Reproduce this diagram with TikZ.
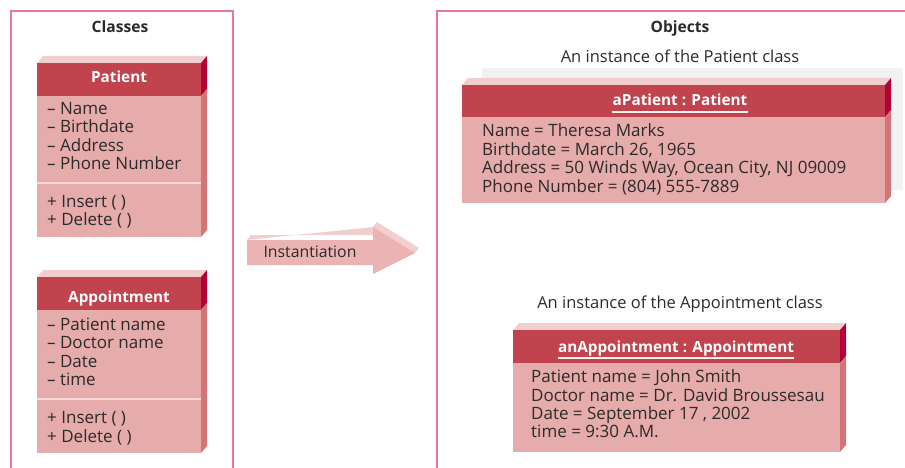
\documentclass[tikz,border=0pt]{standalone}
\usepackage{fontspec}
\setmainfont{Open Sans}
\usetikzlibrary{calc}
\definecolor{hdrc}{HTML}{C0434D}
\definecolor{hdrside}{HTML}{B5003A}
\definecolor{bodyc}{HTML}{E6ABAB}
\definecolor{bodyside}{HTML}{D27478}
\definecolor{bevelc}{HTML}{F2CFCF}
\definecolor{framec}{HTML}{E27A9C}
\definecolor{txtc}{HTML}{2E2A2A}
\definecolor{shadowc}{HTML}{F2F2F2}
\definecolor{arrowc}{HTML}{EBB3B3}
\definecolor{sepc}{HTML}{F6DADA}
\newcommand{\tdbox}[5]{%
  \fill[bevelc] (#1,#2) -- (#1+6,#2-7) -- (#3+6,#2-7) -- (#3,#2) -- cycle;
  \fill[hdrc] (#1,#2) rectangle (#3,#4);
  \fill[hdrside] (#3,#2) -- (#3+6,#2-7) -- (#3+6,#4-7) -- (#3,#4) -- cycle;
  \fill[bodyc] (#1,#4) rectangle (#3,#5);
  \fill[bodyside] (#3,#4) -- (#3+6,#4-7) -- (#3+6,#5-7) -- (#3,#5) -- cycle;
}
\begin{document}
\begin{tikzpicture}[x=1pt,y=-1pt,
  frame/.style={draw=framec,line width=1.8pt},
  title/.style={font=\fontsize{15.6}{18}\selectfont\bfseries,text=txtc,anchor=base,inner sep=0pt},
  caption/.style={font=\fontsize{16.5}{18}\selectfont,text=txtc,anchor=base,inner sep=0pt},
  insttext/.style={font=\fontsize{15.8}{18}\selectfont,text=txtc,anchor=base,inner sep=0pt},
  hdrtext/.style={font=\fontsize{15.3}{18}\selectfont\bfseries,text=white,anchor=base,inner sep=0pt},
  attr/.style={font=\fontsize{17}{18}\selectfont,text=txtc,anchor=base west,inner sep=0pt},
  sepline/.style={draw=sepc,line width=2pt},
  uline/.style={draw=white!92!hdrc,line width=1.2pt}]
\useasboundingbox (0,0) rectangle (905,468);
% frames
\draw[frame] (11,472) -- (11,11) -- (233,11) -- (233,472);
\draw[frame] (437,472) -- (437,11) -- (910,11);
% titles
\node[title] (classes) at (120,33) {Classes};
\node[title] (objects) at (680,33) {Objects};
% Patient class
\tdbox{37}{63}{201}{96}{237}
\node[hdrtext] (pch) at (119,83) {Patient};
\draw[sepline] (37,183) -- (201,183);
\node[attr] (pc1) at (47,115) {– Name};
\node[attr] (pc2) at (47,133) {– Birthdate};
\node[attr] (pc3) at (47,152) {– Address};
\node[attr] (pc4) at (47,170) {– Phone Number};
\node[attr] (pc5) at (47,207) {+ Insert ( )};
\node[attr] (pc6) at (47,225) {+ Delete ( )};
% Appointment class
\tdbox{37}{277}{201}{310}{453}
\node[hdrtext] (ach) at (119,302) {Appointment};
\draw[sepline] (37,399) -- (201,399);
\node[attr] (ac1) at (47,330) {– Patient name};
\node[attr] (ac2) at (47,348) {– Doctor name};
\node[attr] (ac3) at (47,367) {– Date};
\node[attr] (ac4) at (47,385) {– time};
\node[attr] (ac5) at (47,423) {+ Insert ( )};
\node[attr] (ac6) at (47,442) {+ Delete ( )};
% Instantiation arrow
\fill[bevelc] (247,240) -- (251,235) -- (377,235) -- (377,222) -- (373,227) -- cycle;
\fill[bevelc] (373,227) -- (377,222) -- (419,248) -- (415,253) -- cycle;
\fill[arrowc] (247,240) -- (373,240) -- (373,227) -- (415,253) -- (373,274) -- (373,265) -- (247,265) -- cycle;
\node[insttext] (inst) at (310,257) {Instantiation};
% Patient object
\fill[shadowc] (482,68) rectangle (903,190);
\node[caption] (pcap) at (680,63) {An instance of the Patient class};
\tdbox{462}{85}{885}{117}{203}
\node[hdrtext] (poh) at (680,106) {aPatient : Patient};
\draw[uline] (poh.base west) ++(0,6) -- ($(poh.base east)+(0,6)$);
\node[attr] (po1) at (482,137) {Name = Theresa Marks};
\node[attr] (po2) at (482,156) {Birthdate = March 26, 1965};
\node[attr] (po3) at (482,174) {Address = 50 Winds Way, Ocean City, NJ 09009};
\node[attr] (po4) at (482,193) {Phone Number = (804) 555-7889};
% Appointment object
\node[caption] (acap) at (680,308) {An instance of the Appointment class};
\tdbox{513}{330}{840}{363}{452}
\node[hdrtext] (aoh) at (676,352) {anAppointment : Appointment};
\draw[uline] (aoh.base west) ++(0,6) -- ($(aoh.base east)+(0,6)$);
\node[attr] (ao1) at (531,382) {Patient name = John Smith};
\node[attr] (ao2) at (531,401) {Doctor name = Dr. David Broussesau};
\node[attr] (ao3) at (531,419) {Date = September 17 , 2002};
\node[attr] (ao4) at (531,437) {time = 9:30 A.M.};
\end{tikzpicture}
\end{document}
